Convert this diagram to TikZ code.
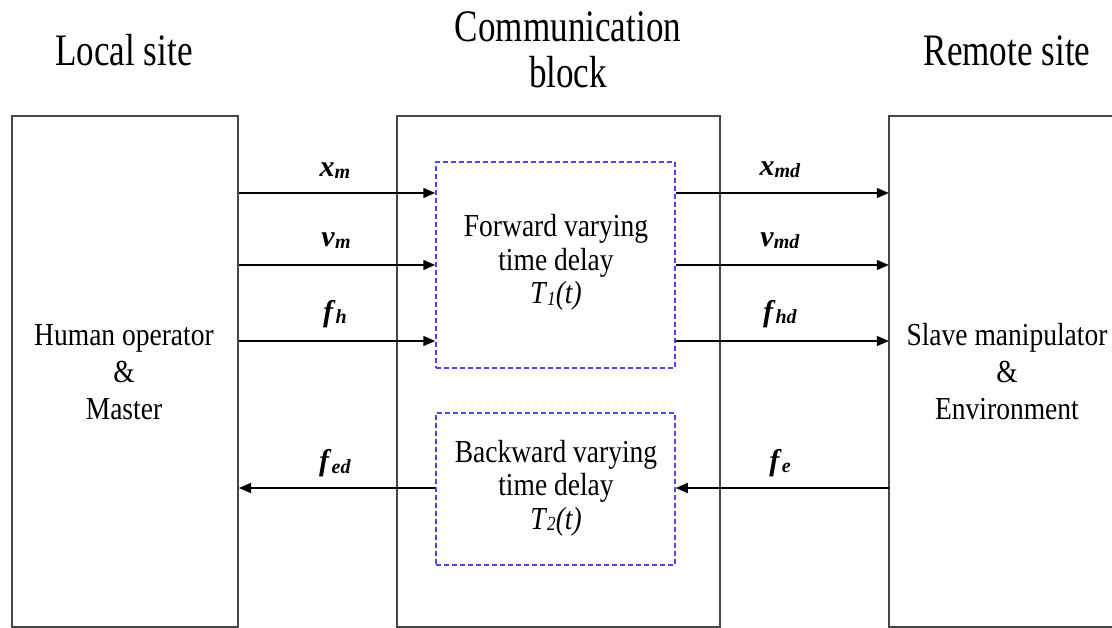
\documentclass[tikz,border=0pt]{standalone}
\usepackage{fontspec}
\setmainfont{Liberation Serif}
\newfontfamily\headfont{Liberation Serif}[FakeStretch=0.78]
\newfontfamily\bodyfont{Liberation Serif}[FakeStretch=0.86]
\usetikzlibrary{arrows.meta}

\definecolor{dashblue}{RGB}{70,70,250}
\definecolor{framegray}{RGB}{70,70,70}

% signal name: bold italic symbol with a small lowered index
\newcommand\sigvar[2]{\textbf{\textit{#1}}\raisebox{-2pt}{\fontsize{20}{20}\selectfont\textbf{\textit{#2}}}}
% delay symbol T_i(t)
\newcommand\delayvar[1]{\textit{T}\raisebox{-2pt}{\fontsize{20}{20}\selectfont\textit{#1}}\textit{(t)}}

\tikzset{
  site/.style={draw=framegray, line width=2pt, inner sep=0pt, rectangle},
  openside/.style={draw=framegray, line width=2pt},
  delaybox/.style={draw=dashblue, line width=1.5pt, dash pattern=on 5pt off 3pt,
                   inner sep=0pt, rectangle},
  heading/.style={font=\headfont\fontsize{45}{46}\selectfont, align=center,
                  inner sep=0pt, anchor=base},
  body/.style={font=\bodyfont\fontsize{32}{37}\selectfont, align=center,
               inner sep=0pt, anchor=base},
  delaytext/.style={font=\bodyfont\fontsize{32}{33.5}\selectfont, align=center,
                    inner sep=0pt, anchor=base},
  sigline/.style={line width=1.5pt, -{Triangle[length=12pt,width=10pt]}},
  siglabel/.style={font=\fontsize{30}{30}\selectfont, inner sep=0pt, anchor=base}
}

\begin{document}
\begin{tikzpicture}[x=1pt,y=-1pt]
  \useasboundingbox (0,0) rectangle (1112,628);

  % headings
  \node[heading] (hlocal)  at (124,66) {Local site};
  \node[heading] (hcomm)   at (568,88) {Communication\\block};
  \node[heading] (hremote) at (1007,66) {Remote site};

  % the three sites
  \node[site, minimum width=226pt, minimum height=511pt] (local) at (125,371.5) {};
  \node[site, minimum width=323pt, minimum height=511pt] (comm)  at (558.5,371.5) {};
  \node[inner sep=0pt, minimum width=223pt, minimum height=511pt] (remote) at (1000.5,371.5) {};
  \draw[openside] (remote.north east) -- (remote.north west)
                  -- (remote.south west) -- (remote.south east);

  % delay blocks
  \node[delaybox, minimum width=239pt, minimum height=206pt] (fwd) at (555.5,265) {};
  \node[delaybox, minimum width=239pt, minimum height=152pt] (bwd) at (555.5,489) {};

  % texts inside the blocks
  \node[body] (tlocal)  at (124,420)  {Human operator\\\&\\Master};
  \node[body] (tremote) at (1007,420) {Slave manipulator\\\&\\Environment};
  \node[delaytext] (tfwd) at (556,304) {Forward varying\\time delay\\\delayvar{1}};
  \node[delaytext] (tbwd) at (556,529) {Backward varying\\time delay\\\delayvar{2}};

  % signal levels
  \coordinate (yx) at (0,193);
  \coordinate (yv) at (0,265);
  \coordinate (yf) at (0,341);
  \coordinate (yb) at (0,488);

  % forward signals
  \draw[sigline] (local.east |- yx) -- (fwd.west |- yx);
  \draw[sigline] (local.east |- yv) -- (fwd.west |- yv);
  \draw[sigline] (local.east |- yf) -- (fwd.west |- yf);
  \draw[sigline] (fwd.east |- yx) -- (remote.west |- yx);
  \draw[sigline] (fwd.east |- yv) -- (remote.west |- yv);
  \draw[sigline] (fwd.east |- yf) -- (remote.west |- yf);

  % backward signals
  \draw[sigline] (remote.west |- yb) -- (bwd.east |- yb);
  \draw[sigline] (bwd.west |- yb) -- (local.east |- yb);

  % signal labels
  \node[siglabel] (lxm)  at (335,177) {\sigvar{x}{m}};
  \node[siglabel] (lvm)  at (336,247) {\sigvar{v}{m}};
  \node[siglabel] (lfh)  at (335,322) {\sigvar{f}{h}};
  \node[siglabel] (lfed) at (335,471) {\sigvar{f}{ed}};
  \node[siglabel] (lxmd) at (780,176) {\sigvar{x}{md}};
  \node[siglabel] (lvmd) at (780,247) {\sigvar{v}{md}};
  \node[siglabel] (lfhd) at (780,322) {\sigvar{f}{hd}};
  \node[siglabel] (lfe)  at (780,470) {\sigvar{f}{e}};
\end{tikzpicture}
\end{document}
